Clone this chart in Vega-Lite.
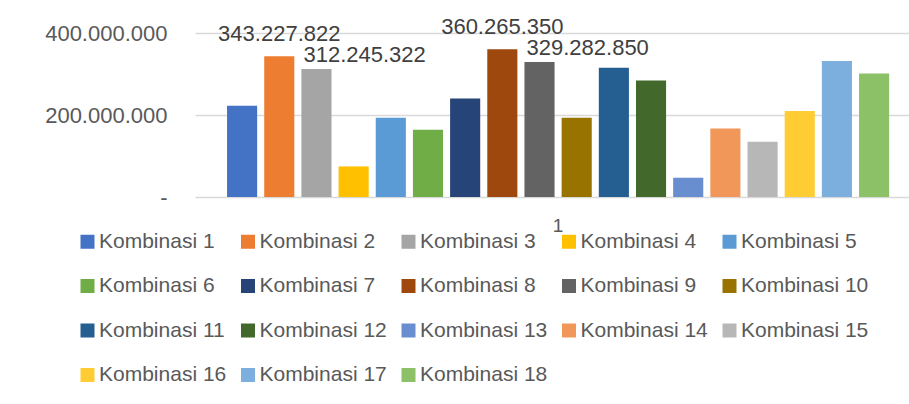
{
  "$schema": "https://vega.github.io/schema/vega-lite/v6.json",
  "autosize": "none",
  "width": 714,
  "height": 164,
  "padding": {"left": 195, "top": 33, "right": 0, "bottom": 207},
  "background": "white",
  "config": {
    "locale": {"number": {"decimal": ",", "thousands": ".", "grouping": [3], "currency": ["", ""]}},
    "view": {"stroke": null},
    "font": "Liberation Sans"
  },
  "data": {
    "values": [
      {"kategori": "1", "kombinasi": "Kombinasi 1", "nilai": 222700000},
      {"kategori": "1", "kombinasi": "Kombinasi 2", "nilai": 343227822},
      {"kategori": "1", "kombinasi": "Kombinasi 3", "nilai": 312245322},
      {"kategori": "1", "kombinasi": "Kombinasi 4", "nilai": 74600000},
      {"kategori": "1", "kombinasi": "Kombinasi 5", "nilai": 193000000},
      {"kategori": "1", "kombinasi": "Kombinasi 6", "nilai": 164000000},
      {"kategori": "1", "kombinasi": "Kombinasi 7", "nilai": 240000000},
      {"kategori": "1", "kombinasi": "Kombinasi 8", "nilai": 360265350},
      {"kategori": "1", "kombinasi": "Kombinasi 9", "nilai": 329282850},
      {"kategori": "1", "kombinasi": "Kombinasi 10", "nilai": 193000000},
      {"kategori": "1", "kombinasi": "Kombinasi 11", "nilai": 315000000},
      {"kategori": "1", "kombinasi": "Kombinasi 12", "nilai": 284000000},
      {"kategori": "1", "kombinasi": "Kombinasi 13", "nilai": 47000000},
      {"kategori": "1", "kombinasi": "Kombinasi 14", "nilai": 167000000},
      {"kategori": "1", "kombinasi": "Kombinasi 15", "nilai": 135000000},
      {"kategori": "1", "kombinasi": "Kombinasi 16", "nilai": 210000000},
      {"kategori": "1", "kombinasi": "Kombinasi 17", "nilai": 332000000},
      {"kategori": "1", "kombinasi": "Kombinasi 18", "nilai": 301000000}
    ]
  },
  "encoding": {
    "x": {
      "field": "kategori", "type": "nominal",
      "scale": {"paddingInner": 0, "paddingOuter": 0.0335, "align": 0.636},
      "axis": {"title": null, "labelAngle": 0, "ticks": false, "domain": false, "grid": false, "labelFontSize": 19, "labelColor": "#595959", "labelPadding": 19}
    },
    "xOffset": {
      "field": "kombinasi", "type": "nominal",
      "sort": ["Kombinasi 1","Kombinasi 2","Kombinasi 3","Kombinasi 4","Kombinasi 5","Kombinasi 6","Kombinasi 7","Kombinasi 8","Kombinasi 9","Kombinasi 10","Kombinasi 11","Kombinasi 12","Kombinasi 13","Kombinasi 14","Kombinasi 15","Kombinasi 16","Kombinasi 17","Kombinasi 18"],
      "scale": {"paddingInner": 0.19, "paddingOuter": 0.095}
    },
    "y": {
      "field": "nilai", "type": "quantitative",
      "scale": {"domain": [0, 400000000], "nice": false},
      "axis": {
        "title": null, "values": [0, 200000000, 400000000], "format": ",d",
        "labelExpr": "datum.value == 0 ? '-\u00a0\u00a0' : datum.label",
        "domain": false, "ticks": false, "labelPadding": 28, "labelFontSize": 22, "labelColor": "#595959",
        "gridColor": "#d9d9d9", "gridWidth": 1.3
      }
    }
  },
  "layer": [
    {
      "mark": {"type": "bar"},
      "encoding": {
        "color": {
          "field": "kombinasi", "type": "nominal",
          "scale": {
            "domain": ["Kombinasi 1","Kombinasi 2","Kombinasi 3","Kombinasi 4","Kombinasi 5","Kombinasi 6","Kombinasi 7","Kombinasi 8","Kombinasi 9","Kombinasi 10","Kombinasi 11","Kombinasi 12","Kombinasi 13","Kombinasi 14","Kombinasi 15","Kombinasi 16","Kombinasi 17","Kombinasi 18"],
            "range": ["#4472C4","#ED7D31","#A5A5A5","#FFC000","#5B9BD5","#70AD47","#264478","#9E480E","#636363","#997300","#255E91","#43682B","#698ED0","#F1975A","#B7B7B7","#FFCD33","#7CAFDD","#8CC168"]
          },
          "legend": {
            "orient": "none", "legendX": -118, "legendY": 198, "columns": 5, "direction": "horizontal",
            "title": null, "symbolType": "square", "symbolSize": 196, "symbolStrokeWidth": 0, "symbolOpacity": 1,
            "labelFontSize": 21, "labelColor": "#595959", "labelOffset": 1, "columnPadding": 10.5, "rowPadding": 22.5,
            "gridAlign": "all", "padding": 0, "labelLimit": 300
          }
        }
      }
    },
    {
      "transform": [{"filter": "datum.kombinasi == 'Kombinasi 2' || datum.kombinasi == 'Kombinasi 8'"}],
      "mark": {"type": "text", "align": "center", "baseline": "alphabetic", "dy": -15, "fontSize": 22, "color": "#404040"},
      "encoding": {"text": {"field": "nilai", "type": "quantitative", "format": ",d"}}
    },
    {
      "transform": [{"filter": "datum.kombinasi == 'Kombinasi 3' || datum.kombinasi == 'Kombinasi 9'"}],
      "mark": {"type": "text", "align": "left", "baseline": "alphabetic", "dx": -13, "dy": -6.5, "fontSize": 22, "color": "#404040"},
      "encoding": {"text": {"field": "nilai", "type": "quantitative", "format": ",d"}}
    }
  ]
}
